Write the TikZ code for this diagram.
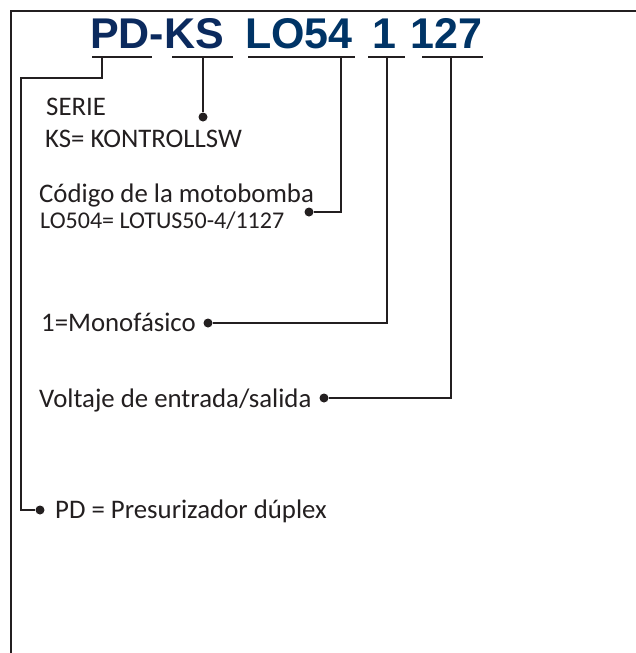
\documentclass[tikz,border=0pt]{standalone}
\usepackage{fontspec}
\setmainfont{Carlito}
\newfontfamily\titlefont{Liberation Sans}
\definecolor{navyA}{HTML}{0B2A5E}
\definecolor{navyB}{HTML}{003466}
\definecolor{ink}{HTML}{231F20}
\begin{document}
\begin{tikzpicture}[x=1pt,y=-1pt,
  ttl/.style={anchor=base west,inner sep=0pt,font=\titlefont\bfseries\fontsize{43}{43}\selectfont},
  lbl/.style={anchor=base west,inner sep=0pt,text=ink,font=\fontsize{26.8}{30}\selectfont},
  lblsmall/.style={anchor=base west,inner sep=0pt,text=ink,font=\fontsize{24}{27}\selectfont},
  uline/.style={draw=ink,line width=2pt},
  conn/.style={draw=ink,line width=2pt},
  frame/.style={draw=ink,line width=2.2pt},
  dotnode/.style={circle,fill=ink,inner sep=0pt,minimum size=9pt}]
\useasboundingbox (0,0) rectangle (636,653);
\fill[white] (0,0) rectangle (636,653);
% frame
\coordinate (fb) at (11,660);
\coordinate (fc) at (11,11);
\coordinate (fr) at (640,11);
\draw[frame] (fb) -- (fc) -- (fr);
% title
\node[ttl,text=navyA] (tPD) at (90,48) {PD-KS};
\node[ttl,text=navyB] (tLO) at (245,48) {LO54};
\node[ttl,text=navyB] (tOne) at (372,48) {1};
\node[ttl,text=navyB] (tV) at (410,48) {127};
% underlines
\coordinate (uPDa) at (92,57);  \coordinate (uPDb) at (152,57);
\coordinate (uKSa) at (172,57); \coordinate (uKSb) at (233,57);
\coordinate (uLOa) at (248,57); \coordinate (uLOb) at (355,57);
\coordinate (u1a) at (368,57);  \coordinate (u1b) at (405,57);
\coordinate (uVa) at (422,57);  \coordinate (uVb) at (483,57);
\draw[uline] (uPDa) -- (uPDb);
\draw[uline] (uKSa) -- (uKSb);
\draw[uline] (uLOa) -- (uLOb);
\draw[uline] (u1a) -- (u1b);
\draw[uline] (uVa) -- (uVb);
% connector start points
\coordinate (uPD) at (102,57);
\coordinate (uKS) at (203,57);
\coordinate (uLO) at (341,57);
\coordinate (u1) at (387,57);
\coordinate (uV) at (451,57);
\coordinate (kPD) at (21,78);
% dots
\node[dotnode] (dKS) at (203,117) {};
\node[dotnode] (dLO) at (309,212) {};
\node[dotnode] (d1) at (208,323) {};
\node[dotnode] (dV) at (324,398) {};
\node[dotnode] (dPD) at (40,510) {};
% connectors
\draw[conn] (uKS) -- (dKS);
\draw[conn] (uLO) |- (dLO);
\draw[conn] (u1) |- (d1);
\draw[conn] (uV) |- (dV);
\draw[conn] (uPD) |- (kPD) |- (dPD);
% labels
\node[lbl] (lSerie) at (46,115) {SERIE};
\node[lbl] (lKS) at (45,147) {KS= KONTROLLSW};
\node[lbl] (lCod) at (39,202) {Código de la motobomba};
\node[lblsmall] (lLO) at (40,228) {LO504= LOTUS50-4/1127};
\node[lbl] (lMono) at (41,331) {1=Monofásico};
\node[lbl] (lVolt) at (39,407) {Voltaje de entrada/salida};
\node[lbl] (lPD) at (55,518) {PD = Presurizador dúplex};
\end{tikzpicture}
\end{document}
